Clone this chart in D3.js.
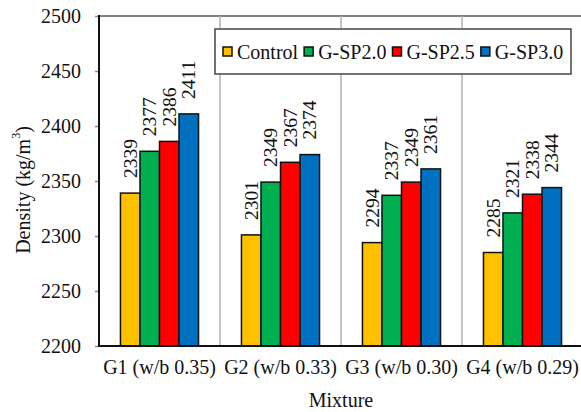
<!DOCTYPE html>
<html>
<head>
<meta charset="utf-8">
<script src="https://cdn.jsdelivr.net/npm/d3@7"></script>
<style>
  body { margin: 0; background: #fff; }
  text { font-family: "Liberation Serif", "Times New Roman", serif; fill: #111; }
</style>
</head>
<body>
<svg id="chart" width="581" height="412"></svg>
<script>
const groups = ["G1 (w/b 0.35)", "G2 (w/b 0.33)", "G3 (w/b 0.30)", "G4 (w/b 0.29)"];
const series = ["Control", "G-SP2.0", "G-SP2.5", "G-SP3.0"];
const colors = ["#FFC000", "#00B050", "#FF0000", "#0070C0"];
const control = [2339, 2301, 2294, 2285];
const sp20 = [2377, 2349, 2337, 2321];
const sp25 = [2386, 2367, 2349, 2338];
const sp30 = [2411, 2374, 2361, 2344];
const yTicks = [2200, 2250, 2300, 2350, 2400, 2450, 2500];

const values = [control, sp20, sp25, sp30];
const data = groups.flatMap((g, gi) => series.map((s, si) => ({ g, s, si, v: values[si][gi] })));

const svg = d3.select("#chart");
const m = { left: 99, top: 16, right: 583, bottom: 346 };

const x0 = d3.scaleBand().domain(groups).range([m.left, m.right]);
const x1 = d3.scaleBand().domain(series).range([0, x0.bandwidth()]).paddingInner(0).paddingOuter(1.1);
const y = d3.scaleLinear().domain([2200, 2500]).range([m.bottom, m.top]);

// top border
svg.append("line")
    .attr("x1", m.left).attr("x2", m.right)
    .attr("y1", m.top).attr("y2", m.top)
    .attr("stroke", "#808080").attr("stroke-width", 2);

// vertical separators between groups
svg.selectAll("line.sep")
    .data(groups.slice(1))
    .join("line")
    .attr("class", "sep")
    .attr("x1", d => x0(d)).attr("x2", d => x0(d))
    .attr("y1", m.top).attr("y2", m.bottom)
    .attr("stroke", "#b0b0b0").attr("stroke-width", 1.5);

// bars
svg.selectAll("rect.bar")
    .data(data)
    .join("rect")
    .attr("class", "bar")
    .attr("x", d => x0(d.g) + x1(d.s))
    .attr("y", d => y(d.v))
    .attr("width", x1.bandwidth())
    .attr("height", d => y(2200) - y(d.v))
    .attr("fill", d => colors[d.si])
    .attr("stroke", "#111")
    .attr("stroke-width", 1.5);

// value labels
svg.selectAll("text.val")
    .data(data)
    .join("text")
    .attr("class", "val")
    .attr("transform", d => {
        const cx = x0(d.g) + x1(d.s) + x1.bandwidth() / 2;
        return "translate(" + cx + "," + (y(d.v) - 15) + ") rotate(-90)";
    })
    .attr("dominant-baseline", "central")
    .attr("text-anchor", "start")
    .style("font-size", "19.5px")
    .text(d => d.v);

// y axis
const yAxis = d3.axisLeft(y).tickValues(yTicks).tickSize(4).tickPadding(14).tickFormat(d3.format("d"));
const ya = svg.append("g").attr("transform", "translate(" + m.left + ",0)").call(yAxis);
ya.select(".domain").remove();
ya.selectAll(".tick line").attr("stroke", "#888").attr("stroke-width", 1.5);
ya.selectAll(".tick text").style("font-size", "20px").attr("fill", "#111");

// x axis labels
const xAxis = d3.axisBottom(x0).tickSize(0).tickPadding(14);
const xa = svg.append("g").attr("transform", "translate(0," + m.bottom + ")").call(xAxis);
xa.select(".domain").remove();
xa.selectAll(".tick text").style("font-size", "20px").attr("fill", "#111");

// axis lines
svg.append("line")
    .attr("x1", m.left).attr("x2", m.right)
    .attr("y1", m.bottom).attr("y2", m.bottom)
    .attr("stroke", "#111").attr("stroke-width", 2);
svg.append("line")
    .attr("x1", m.left).attr("x2", m.left)
    .attr("y1", m.top - 1).attr("y2", m.bottom + 1)
    .attr("stroke", "#111").attr("stroke-width", 2);

// axis titles
svg.append("text")
    .attr("x", 341).attr("y", 400)
    .attr("text-anchor", "middle")
    .attr("dominant-baseline", "central")
    .style("font-size", "20px")
    .text("Mixture");

const yt = svg.append("text")
    .attr("transform", "translate(23,190) rotate(-90)")
    .attr("text-anchor", "middle")
    .attr("dominant-baseline", "central")
    .style("font-size", "20px");
yt.append("tspan").text("Density (kg/m");
yt.append("tspan").attr("dy", -7).style("font-size", "12px").text("3");
yt.append("tspan").attr("dy", 7).text(")");

// legend
const legend = svg.append("g");
legend.append("rect")
    .attr("x", 215).attr("y", 29)
    .attr("width", 356).attr("height", 45)
    .attr("fill", "#fff")
    .attr("stroke", "#444").attr("stroke-width", 1.5);
let lx = 223;
series.forEach((s, i) => {
    legend.append("rect")
        .attr("x", lx).attr("y", 47)
        .attr("width", 9).attr("height", 9)
        .attr("fill", colors[i])
        .attr("stroke", "#111").attr("stroke-width", 1.5);
    const t = legend.append("text")
        .attr("x", lx + 14).attr("y", 52)
        .attr("dominant-baseline", "central")
        .style("font-size", "20px")
        .text(s);
    lx += 14 + t.node().getComputedTextLength() + 6;
});
</script>
</body>
</html>
